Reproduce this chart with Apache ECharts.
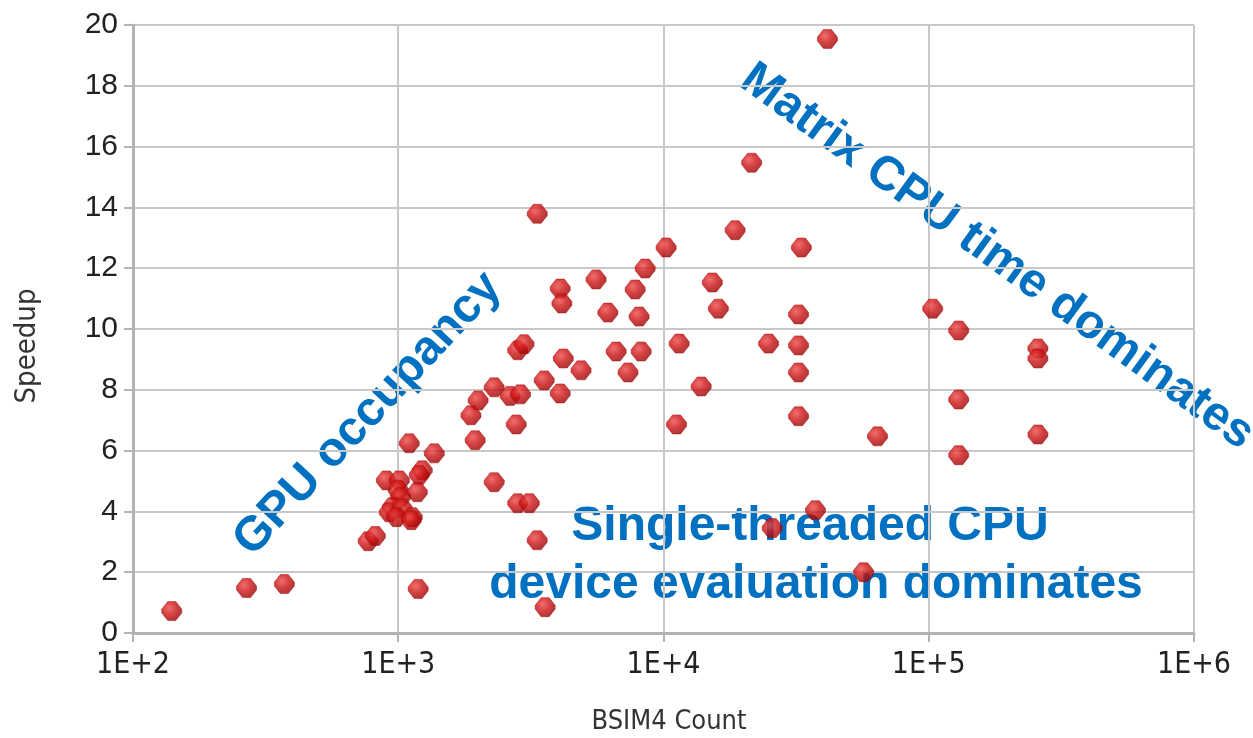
<!DOCTYPE html>
<html>
<head>
<meta charset="utf-8">
<script src="https://cdn.jsdelivr.net/npm/echarts@6/dist/echarts.min.js"></script>
<style>
  html, body { margin: 0; padding: 0; background: #ffffff; }
  #chart { width: 1253px; height: 738px; }
</style>
</head>
<body>
<div id="chart"></div>
<script>
// BSIM4 instance count per circuit
const bsim4Count = [
  140, 268, 372, 770, 820, 1189,
  1100, 1367, 1232, 1200, 902, 1010, 1000, 1180, 1020, 950, 925, 1035, 1130, 985, 1120,
  3342, 18620, 10230, 8530, 5570, 4080, 7820, 15280, 4140, 6170, 8090, 16100,
  11460, 2820, 2980, 6630, 8240, 4190, 4890, 7350, 3550, 13870, 2300,
  2640, 2890, 4080, 2000, 1880, 2785, 11200, 1950,
  2300, 2820, 3120, 3340, 3580,
  41500, 21500, 33100,
  32300, 24900, 32300, 32300, 32300, 64100,
  103500, 129700, 258000, 258000, 129700, 258000, 129700,
  37400, 25700, 56800
];
// Speedup measured for each circuit
const speedup = [
  0.72, 1.48, 1.61, 3.02, 3.19, 1.45,
  6.24, 5.91, 5.35, 5.2, 5.02, 5.02, 4.7, 4.63, 4.47, 4.14, 3.97, 4.1, 3.81, 3.81, 3.71,
  13.79, 13.25, 12.68, 11.99, 11.63, 11.33, 11.3, 11.53, 10.84, 10.54, 10.41, 10.67,
  9.52, 9.3, 9.5, 9.26, 9.26, 9.03, 8.64, 8.57, 8.31, 8.11, 8.08,
  7.8, 7.85, 7.88, 7.65, 7.16, 6.86, 6.86, 6.34,
  4.96, 4.27, 4.27, 3.05, 0.85,
  19.54, 15.47, 12.68,
  10.48, 9.52, 9.46, 8.57, 7.13, 6.47,
  10.67, 9.95, 9.36, 9.03, 7.68, 6.53, 5.85,
  4.04, 3.45, 2.0
];
// Axis titles and regional annotations
const xTitle = 'BSIM4 Count';
const yTitle = 'Speedup';
const noteOccupancy = 'GPU occupancy';
const noteMatrix = 'Matrix CPU time dominates';
const noteDevice = ['Single-threaded CPU', 'device evaluation dominates'];

const points = bsim4Count.map((x, i) => [x, speedup[i]]);

const chart = echarts.init(document.getElementById('chart'), null, { renderer: 'canvas' });

const gridColor = '#c8c8c8';
const axisColor = '#b3b3b3';
const narrowFont = "'Liberation Sans Narrow', 'DejaVu Sans Condensed', 'Liberation Sans', sans-serif";
const noteStyle = {
  fill: '#0070c0',
  fontFamily: "'Liberation Sans', Arial, sans-serif",
  fontWeight: 'bold',
  fontSize: 48,
  align: 'center',
  verticalAlign: 'middle'
};
const titleStyle = {
  fill: '#333333',
  fontFamily: narrowFont,
  fontSize: 27,
  align: 'center',
  verticalAlign: 'middle'
};

const markerPath = 'path://M3,0 L7,0 L10,4 L10,6 L7,10 L3,10 L0,6 L0,4 Z';

chart.setOption({
  animation: false,
  backgroundColor: '#ffffff',
  grid: { left: 133, right: 59, top: 25, bottom: 105, containLabel: false },
  xAxis: {
    type: 'log',
    logBase: 10,
    min: 100,
    max: 1000000,
    axisLine: { show: true, onZero: false, lineStyle: { color: axisColor, width: 3 } },
    axisTick: { show: true, length: 9, lineStyle: { color: axisColor, width: 2 } },
    axisLabel: {
      fontFamily: narrowFont, fontSize: 30, color: '#222222', margin: 17,
      formatter: v => '1E+' + Math.round(Math.log10(v))
    },
    splitLine: { show: true, lineStyle: { color: gridColor, width: 2 } },
    minorTick: { show: false }
  },
  yAxis: {
    type: 'value',
    min: 0,
    max: 20,
    interval: 2,
    axisLine: { show: true, lineStyle: { color: axisColor, width: 3 } },
    axisTick: { show: true, length: 9, lineStyle: { color: axisColor, width: 2 } },
    axisLabel: {
      fontFamily: "'Liberation Sans', Arial, sans-serif", fontSize: 30, color: '#222222', margin: 15
    },
    splitLine: { show: true, lineStyle: { color: gridColor, width: 2 } }
  },
  series: [{
    type: 'scatter',
    data: points,
    symbol: markerPath,
    symbolSize: [20, 19],
    itemStyle: {
      color: {
        type: 'radial', x: 0.38, y: 0.35, r: 0.75,
        colorStops: [
          { offset: 0, color: '#ec4a4a' },
          { offset: 0.45, color: '#cc1212' },
          { offset: 1, color: '#8c0000' }
        ]
      },
      borderColor: '#a80a0a',
      borderWidth: 0.6
    }
  }],
  graphic: [
    {
      type: 'text', x: 669, y: 722,
      style: Object.assign({ text: xTitle }, titleStyle)
    },
    {
      type: 'text', x: 27, y: 346, rotation: Math.PI / 2,
      style: Object.assign({ text: yTitle }, titleStyle, { fontSize: 29 })
    },
    {
      type: 'text', x: 368, y: 414, rotation: 47 * Math.PI / 180,
      style: Object.assign({ text: noteOccupancy }, noteStyle)
    },
    {
      type: 'text', x: 997, y: 257, rotation: -36 * Math.PI / 180,
      style: Object.assign({ text: noteMatrix }, noteStyle)
    },
    {
      type: 'text', x: 810, y: 527,
      style: Object.assign({ text: noteDevice[0] }, noteStyle)
    },
    {
      type: 'text', x: 816, y: 585,
      style: Object.assign({ text: noteDevice[1] }, noteStyle)
    }
  ]
});
</script>
</body>
</html>
